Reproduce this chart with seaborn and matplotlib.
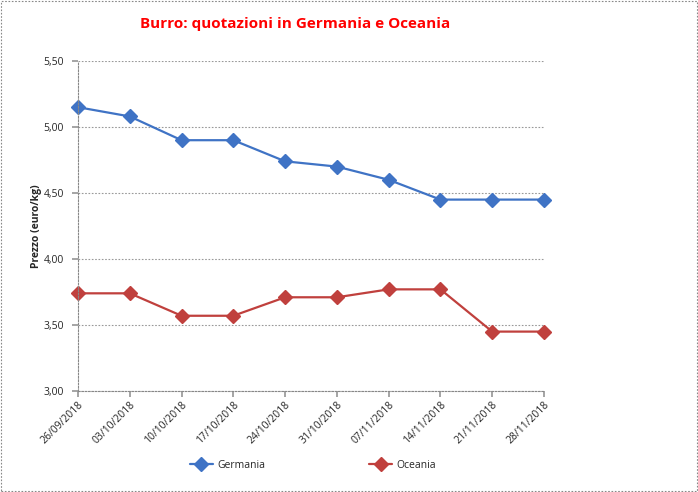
import matplotlib
matplotlib.use("Agg")
import matplotlib.pyplot as plt
import seaborn as sns
import pandas as pd
from matplotlib.patches import Rectangle

dates = ["26/09/2018", "03/10/2018", "10/10/2018", "17/10/2018", "24/10/2018",
         "31/10/2018", "07/11/2018", "14/11/2018", "21/11/2018", "28/11/2018"]
germania = [5.15, 5.08, 4.90, 4.90, 4.74, 4.70, 4.60, 4.45, 4.45, 4.45]
oceania = [3.74, 3.74, 3.57, 3.57, 3.71, 3.71, 3.77, 3.77, 3.45, 3.45]
yticks = [3.00, 3.50, 4.00, 4.50, 5.00, 5.50]

sns.set_theme(style="white")
plt.rcParams['font.family'] = ['Open Sans', 'DejaVu Sans']

df = pd.DataFrame({
    "idx": list(range(len(dates))) * 2,
    "Prezzo": germania + oceania,
    "Serie": ["Germania"] * len(dates) + ["Oceania"] * len(dates),
})

fig = plt.figure(figsize=(6.98, 4.92), dpi=100)
ax = fig.add_axes([78/698, 1 - 391/492, (544-78)/698, (391-61)/492])

palette = {"Germania": "#3F73C5", "Oceania": "#C0403D"}
faces = {"Germania": "#5B8AD3", "Oceania": "#D0504D"}
sns.lineplot(data=df, x="idx", y="Prezzo", hue="Serie", style="Serie",
             markers={"Germania": "D", "Oceania": "D"}, dashes=False,
             palette=palette, markersize=7.5, linewidth=1.6, ax=ax)
for ln in ax.lines:
    ln.set_clip_on(False)
    c = ln.get_color()
    ln.set_markeredgecolor(c)
    ln.set_markeredgewidth(1.0)

ax.set_xlim(0, len(dates) - 1)
ax.set_ylim(3.0, 5.5)
ax.set_yticks(yticks)
ax.set_yticklabels([f"{v:.2f}".replace(".", ",") for v in yticks], fontsize=7.5)
ax.set_xticks(range(len(dates)))
ax.set_xticklabels(dates, rotation=45, ha="right", rotation_mode="anchor", fontsize=7.5)
ax.tick_params(axis="x", length=4, color="#999999", pad=2, direction="out", bottom=True)
ax.tick_params(axis="y", length=4, color="#999999", pad=6, left=True)
ax.yaxis.grid(True, linestyle=(0, (1.5, 1.5)), color="#999999", linewidth=0.8)
ax.xaxis.grid(False)
for s in ["top", "right"]:
    ax.spines[s].set_visible(False)
for s in ["left", "bottom"]:
    ax.spines[s].set_linestyle((0, (1.5, 1.5)))
    ax.spines[s].set_color("#888888")
    ax.spines[s].set_linewidth(0.8)

ax.set_xlabel("")
ax.set_ylabel("Prezzo (euro/kg)", fontsize=7.5, fontweight="bold", labelpad=3)
ax.yaxis.set_label_coords(-36/466, 0.5)

leg = ax.legend(loc="center", bbox_to_anchor=(313/698, 1 - 465/492),
                bbox_transform=fig.transFigure, ncol=2, frameon=False,
                fontsize=7.5, columnspacing=10, handlelength=2.2, handletextpad=0.4)

fig.text(295/698, 1 - 24/492, "Burro: quotazioni in Germania e Oceania",
         color="#FF0000", fontsize=11, fontweight="bold", ha="center", va="center")

fig.patches.append(Rectangle((0.002, 0.002), 0.996, 0.996, transform=fig.transFigure,
                             fill=False, edgecolor="#888888", linestyle=(0, (1.5, 1.5)),
                             linewidth=0.8))

fig.savefig("out.png", dpi=100)
